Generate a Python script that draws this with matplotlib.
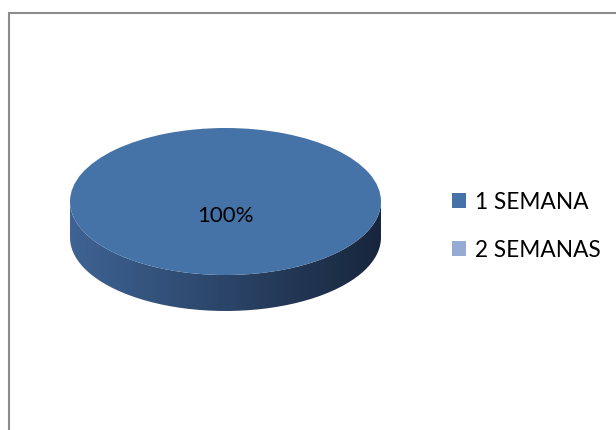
import numpy as np
import matplotlib.pyplot as plt
from matplotlib.patches import Rectangle, PathPatch
from matplotlib.path import Path

plt.rcParams['font.family'] = ['Lato', 'DejaVu Sans']

labels = ['1 SEMANA', '2 SEMANAS']
values = [100, 0]
colors = ['#4572A7', '#95ABD3']

W, H = 616, 430
fig = plt.figure(figsize=(W / 100, H / 100), dpi=100)

# outer frame (partly cut off at right and bottom)
fig.patches.append(Rectangle((9 / W, -0.1), 1.2, 1 - 13 / H + 0.1, transform=fig.transFigure,
                             fill=False, edgecolor='#8c8c8c', linewidth=1.5))

# pie axes: top face spans x 70..381, y 128..275, side depth ~36 px
depth = 36 / 73.5
ax = fig.add_axes([70 / W, 1 - 311 / H, 311 / W, 183 / H])

# side of the 3D disc, shaded with a horizontal gradient
t = np.linspace(np.pi, 2 * np.pi, 100)
xs = np.concatenate([np.cos(t), np.cos(t[::-1])])
ys = np.concatenate([np.sin(t) - depth, np.sin(t[::-1])])
side = PathPatch(Path(np.column_stack([xs, ys])), facecolor='none', edgecolor='none')
ax.add_patch(side)
c0 = np.array([62, 99, 148]) / 255
c1 = np.array([24, 38, 60]) / 255
g = np.linspace(0, 1, 256)[None, :, None]
grad = c0 + (c1 - c0) * g
img = ax.imshow(grad, extent=[-1, 1, -1 - depth, 0.1], aspect='auto', zorder=1)
img.set_clip_path(side)

wedges, texts = ax.pie(values, colors=colors, startangle=90, counterclock=False,
                       radius=1, pctdistance=0.2,
                       autopct=lambda p: f'{p:.0f}%' if p > 0 else '',
                       textprops={'fontsize': 16, 'color': 'black'},
                       wedgeprops={'linewidth': 0})[:2]
for w in wedges:
    w.set_zorder(2)
for tx in ax.texts:
    tx.set_zorder(3)
ax.set_aspect('auto')
ax.set_xlim(-1, 1)
ax.set_ylim(-1 - depth, 1)
ax.axis('off')

fig.legend(wedges, labels, loc='upper left', bbox_to_anchor=(452 / W, 1 - 191.5 / H),
           frameon=False, fontsize=16.3, handlelength=0.62, handleheight=0.62,
           handletextpad=0.4, labelspacing=1.2, borderpad=0, borderaxespad=0)

fig.savefig('out.png', dpi=100)
